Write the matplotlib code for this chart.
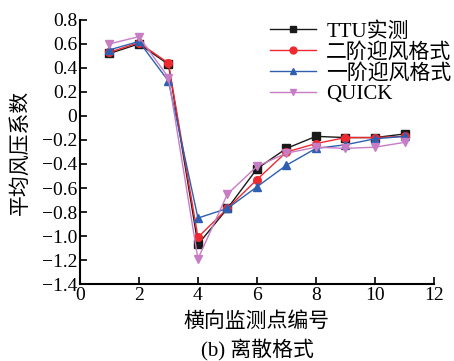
import matplotlib
matplotlib.use('Agg')
import matplotlib.pyplot as plt

plt.rcParams['font.family'] = ['Liberation Serif', 'Noto Sans CJK SC']
plt.rcParams['axes.unicode_minus'] = True

# data
points = [1, 2, 3, 4, 5, 6, 7, 8, 9, 10, 11]
ttu = [0.52, 0.60, 0.43, -1.07, -0.77, -0.44, -0.27, -0.17, -0.18, -0.18, -0.15]
second_order = [0.53, 0.61, 0.44, -1.01, -0.77, -0.53, -0.30, -0.23, -0.18, -0.18, -0.17]
first_order = [0.55, 0.62, 0.29, -0.85, -0.77, -0.59, -0.41, -0.27, -0.24, -0.19, -0.17]
quick = [0.60, 0.66, 0.32, -1.19, -0.65, -0.42, -0.31, -0.26, -0.27, -0.26, -0.22]

series = [
    (ttu, 'TTU实测', '#1a1a1a', 's'),
    (second_order, '二阶迎风格式', '#ee2a30', 'o'),
    (first_order, '一阶迎风格式', '#2e5fb0', '^'),
    (quick, 'QUICK', '#c77cc4', 'v'),
]

fig = plt.figure(figsize=(4.54, 3.61), dpi=100)
ax = fig.add_axes([0.176, 0.213, 0.78, 0.732])

for vals, name, color, mk in series:
    ax.plot(points, vals, color=color, marker=mk, markersize=5.5, linewidth=1, label=name)

ax.set_xlim(0, 12)
ax.set_ylim(-1.4, 0.8)
ax.set_xticks(range(0, 13, 2))
ax.set_yticks([0.8, 0.6, 0.4, 0.2, 0, -0.2, -0.4, -0.6, -0.8, -1.0, -1.2, -1.4])
ax.set_yticklabels(['0.8', '0.6', '0.4', '0.2', '0', '\u22120.2', '\u22120.4', '\u22120.6',
                    '\u22120.8', '\u22121.0', '\u22121.2', '\u22121.4'])
ax.spines['top'].set_visible(False)
ax.spines['right'].set_visible(False)
for s in ('left', 'bottom'):
    ax.spines[s].set_linewidth(1.5)
ax.tick_params(direction='in', labelsize=14, width=1.2, length=5, pad=2)

ax.set_ylabel('平均风压系数', fontsize=15, labelpad=8)
ax.set_xlabel('横向监测点编号', fontsize=15, labelpad=6)
fig.text(0.567, 0.03, '(b) 离散格式', fontsize=15, ha='center', va='center')

ax.legend(loc='upper right', bbox_to_anchor=(1.085, 1.04), frameon=False, fontsize=15,
          handlelength=2.2, labelspacing=0.05, borderaxespad=0.2, handletextpad=0.5,
          markerscale=0.9)

fig.savefig('out.png', dpi=100)
